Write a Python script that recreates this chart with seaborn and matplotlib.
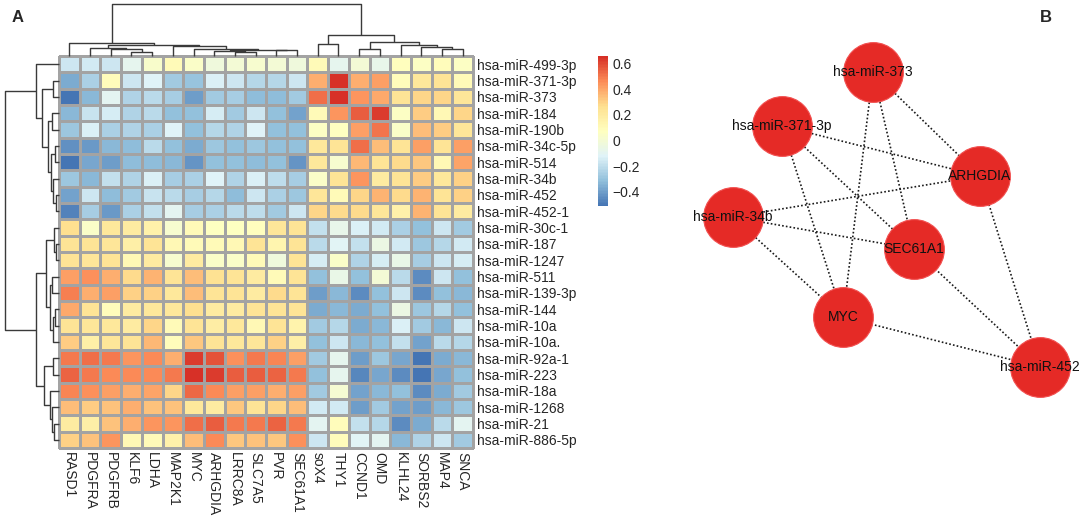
import numpy as np
import pandas as pd
import matplotlib
matplotlib.use("Agg")
import matplotlib.pyplot as plt
from matplotlib.colors import LinearSegmentedColormap
import seaborn as sns

# ---------------- data ----------------
genes = ["RASD1", "PDGFRA", "PDGFRB", "KLF6", "LDHA", "MAP2K1", "MYC", "ARHGDIA",
         "LRRC8A", "SLC7A5", "PVR", "SEC61A1", "soX4", "THY1", "CCND1", "OMD",
         "KLHL24", "SORBS2", "MAP4", "SNCA"]
mirnas = ["hsa-miR-499-3p", "hsa-miR-371-3p", "hsa-miR-373", "hsa-miR-184", "hsa-miR-190b",
          "hsa-miR-34c-5p", "hsa-miR-514", "hsa-miR-34b", "hsa-miR-452", "hsa-miR-452-1",
          "hsa-miR-30c-1", "hsa-miR-187", "hsa-miR-1247", "hsa-miR-511", "hsa-miR-139-3p",
          "hsa-miR-144", "hsa-miR-10a", "hsa-miR-10a.", "hsa-miR-92a-1", "hsa-miR-223",
          "hsa-miR-18a", "hsa-miR-1268", "hsa-miR-21", "hsa-miR-886-5p"]
corr_values = [
    [-0.17, -0.15, -0.17, -0.08, 0.03, 0.10, 0.05, -0.03, 0.00, 0.02, 0.00, -0.03, 0.10, -0.08, 0.00, -0.07, 0.08, 0.06, 0.09, 0.06],
    [-0.36, -0.25, 0.09, -0.16, -0.12, -0.27, -0.29, -0.13, -0.17, -0.22, -0.22, -0.17, 0.38, 0.65, 0.38, 0.42, 0.09, 0.22, 0.24, 0.10],
    [-0.51, -0.33, -0.10, -0.24, -0.21, -0.26, -0.40, -0.27, -0.26, -0.32, -0.32, -0.27, 0.52, 0.66, 0.44, 0.40, 0.24, 0.29, 0.29, 0.23],
    [-0.33, -0.18, -0.14, -0.23, -0.21, -0.30, -0.31, -0.14, -0.27, -0.17, -0.31, -0.39, 0.10, 0.44, 0.56, 0.63, 0.06, 0.31, 0.12, 0.29],
    [-0.28, -0.13, -0.25, -0.23, -0.25, -0.12, -0.31, -0.22, -0.23, -0.12, -0.30, -0.30, 0.06, 0.07, 0.42, 0.51, 0.05, 0.35, 0.31, 0.23],
    [-0.43, -0.41, -0.33, -0.32, -0.21, -0.31, -0.36, -0.28, -0.30, -0.28, -0.30, -0.30, 0.22, 0.24, 0.52, 0.35, 0.24, 0.42, 0.24, 0.42],
    [-0.51, -0.37, -0.40, -0.32, -0.32, -0.33, -0.42, -0.30, -0.30, -0.32, -0.31, -0.42, 0.22, 0.02, 0.36, 0.24, 0.28, 0.33, 0.12, 0.41],
    [-0.28, -0.33, -0.19, -0.24, -0.13, -0.26, -0.25, -0.12, -0.24, -0.13, -0.20, -0.26, 0.05, 0.24, 0.44, 0.20, 0.24, 0.31, 0.22, 0.30],
    [-0.39, -0.17, -0.32, -0.27, -0.18, -0.21, -0.26, -0.22, -0.32, -0.17, -0.25, -0.28, 0.23, 0.10, 0.29, 0.37, 0.28, 0.37, 0.24, 0.30],
    [-0.47, -0.26, -0.41, -0.25, -0.19, -0.10, -0.26, -0.25, -0.21, -0.20, -0.27, -0.17, 0.29, 0.28, 0.28, 0.23, 0.16, 0.37, 0.24, 0.20],
    [0.27, 0.04, 0.22, 0.20, 0.16, 0.02, 0.10, 0.07, 0.07, 0.08, 0.23, 0.24, -0.19, -0.07, -0.13, -0.15, -0.25, -0.31, -0.16, -0.27],
    [0.25, 0.25, 0.23, 0.17, 0.24, 0.12, 0.11, 0.10, 0.12, 0.25, 0.14, 0.24, -0.21, -0.11, -0.19, -0.05, -0.15, -0.28, -0.22, -0.15],
    [0.24, 0.23, 0.25, 0.12, 0.20, 0.02, 0.20, 0.04, 0.05, 0.10, -0.02, 0.24, -0.14, 0.05, -0.23, -0.14, -0.06, -0.26, -0.17, -0.14],
    [0.42, 0.45, 0.38, 0.28, 0.37, 0.24, 0.35, 0.26, 0.24, 0.20, 0.10, 0.24, -0.31, -0.06, -0.31, 0.00, -0.21, -0.45, -0.16, -0.31],
    [0.49, 0.38, 0.42, 0.30, 0.30, 0.22, 0.35, 0.24, 0.24, 0.20, 0.28, 0.24, -0.40, -0.33, -0.45, -0.31, -0.16, -0.44, -0.31, -0.33],
    [0.40, 0.24, 0.09, 0.20, 0.22, 0.22, 0.27, 0.20, 0.20, 0.25, 0.24, 0.24, -0.36, -0.33, -0.36, -0.31, -0.05, -0.28, -0.22, -0.31],
    [0.24, 0.23, 0.22, 0.20, 0.29, 0.10, 0.24, 0.19, 0.22, 0.12, 0.24, 0.15, -0.27, -0.22, -0.36, -0.33, -0.13, -0.27, -0.33, -0.16],
    [0.31, 0.17, 0.23, 0.25, 0.36, 0.09, 0.33, 0.24, 0.22, 0.23, 0.30, 0.17, -0.31, -0.16, -0.33, -0.31, -0.19, -0.39, -0.21, -0.22],
    [0.50, 0.52, 0.50, 0.44, 0.47, 0.38, 0.63, 0.58, 0.46, 0.50, 0.48, 0.42, -0.27, -0.08, -0.40, -0.28, -0.38, -0.51, -0.36, -0.33],
    [0.55, 0.50, 0.47, 0.47, 0.47, 0.50, 0.66, 0.63, 0.56, 0.56, 0.55, 0.50, -0.31, -0.08, -0.46, -0.38, -0.44, -0.50, -0.38, -0.31],
    [0.48, 0.45, 0.42, 0.38, 0.41, 0.29, 0.54, 0.47, 0.42, 0.42, 0.38, 0.42, -0.27, 0.01, -0.39, -0.33, -0.31, -0.45, -0.36, -0.27],
    [0.35, 0.31, 0.34, 0.38, 0.34, 0.34, 0.22, 0.20, 0.33, 0.24, 0.29, 0.35, -0.15, -0.15, -0.40, -0.27, -0.39, -0.40, -0.33, -0.28],
    [0.20, 0.17, 0.34, 0.39, 0.44, 0.44, 0.53, 0.56, 0.50, 0.50, 0.55, 0.50, -0.09, 0.09, -0.19, -0.22, -0.44, -0.36, -0.21, -0.09],
    [0.30, 0.34, 0.44, 0.12, 0.10, 0.16, 0.35, 0.47, 0.33, 0.34, 0.33, 0.45, -0.16, 0.09, -0.11, -0.09, -0.33, -0.23, -0.16, -0.27],
]
cbar_ticks = [0.6, 0.4, 0.2, 0.0, -0.2, -0.4]
cbar_ticklabels = ["0.6", "0.4", "0.2", "0", "\u22120.2", "\u22120.4"]

# dendrogram merges: (child a, child b, height); ids >= n are earlier merges
col_links = [(3, 4, 12), (2, 20, 22), (1, 21, 24), (8, 9, 12), (7, 23, 15),
             (10, 11, 17), (24, 25, 19), (6, 26, 22), (5, 27, 29), (22, 28, 34),
             (0, 29, 39), (12, 13, 37), (14, 15, 22), (18, 19, 20), (17, 33, 28),
             (16, 34, 34), (32, 35, 42), (31, 36, 64), (30, 37, 157)]
row_links = [(1, 2, 18), (3, 4, 20), (5, 6, 12), (8, 9, 10), (7, 27, 18),
             (26, 28, 25), (25, 29, 33), (24, 30, 50), (0, 31, 68), (11, 12, 8),
             (10, 33, 15), (13, 14, 20), (15, 16, 12), (36, 17, 18), (35, 37, 26),
             (34, 38, 38), (18, 19, 18), (22, 23, 15), (21, 41, 22), (20, 42, 28),
             (40, 43, 45), (39, 44, 70), (32, 45, 163)]

# network (panel B)
net_nodes = ["hsa-miR-373", "hsa-miR-371-3p", "ARHGDIA", "hsa-miR-34b", "SEC61A1", "MYC", "hsa-miR-452"]
net_edges = [("hsa-miR-373", "MYC"), ("hsa-miR-373", "SEC61A1"), ("hsa-miR-373", "ARHGDIA"),
             ("hsa-miR-371-3p", "ARHGDIA"), ("hsa-miR-371-3p", "SEC61A1"), ("hsa-miR-371-3p", "MYC"),
             ("hsa-miR-34b", "ARHGDIA"), ("hsa-miR-34b", "SEC61A1"), ("hsa-miR-34b", "MYC"),
             ("hsa-miR-452", "ARHGDIA"), ("hsa-miR-452", "SEC61A1"), ("hsa-miR-452", "MYC")]
# layout (pixel space of the panel)
net_layout = {"hsa-miR-373": (873, 72), "hsa-miR-371-3p": (782, 126), "ARHGDIA": (980, 176),
              "hsa-miR-34b": (733, 217), "SEC61A1": (914, 249), "MYC": (843, 317),
              "hsa-miR-452": (1040, 367)}

# ---------------- style ----------------
sns.set_style("white")
plt.rcParams["font.family"] = ["Liberation Sans", "DejaVu Sans"]
plt.rcParams["axes.unicode_minus"] = True

W, H = 1084, 519
fig = plt.figure(figsize=(W / 100, H / 100), dpi=100)


def fax(x0, y0, x1, y1):
    return fig.add_axes([x0 / W, 1 - y1 / H, (x1 - x0) / W, (y1 - y0) / H])


cmap = LinearSegmentedColormap.from_list(
    "pheat", ["#4575B4", "#91BFDB", "#E0F3F8", "#FFFFBF", "#FEE090", "#FC8D59", "#D73027"], N=100)

df = pd.DataFrame(corr_values, index=mirnas, columns=genes)

ax = fax(59, 56, 473, 448)
cax = fax(598, 56, 608, 206)
sns.heatmap(df, ax=ax, cmap=cmap, vmin=-0.51, vmax=0.66, linewidths=0.9,
            linecolor="#a3a3a3", cbar_ax=cax, xticklabels=True, yticklabels=True)
ax.collections[0].set_clip_on(False)
ax.yaxis.tick_right()
ax.set_yticks(np.arange(len(mirnas)) + 0.5)
ax.set_yticklabels(mirnas, rotation=0, fontsize=10)
ax.set_xticks(np.arange(len(genes)) + 0.5)
ax.set_xticklabels(genes, rotation=270, fontsize=10, ha="center", va="top")
ax.tick_params(axis="both", length=0, pad=3)
ax.set_xlabel("")
ax.set_ylabel("")

cbar = ax.collections[0].colorbar
cbar.set_ticks(cbar_ticks)
cbar.set_ticklabels(cbar_ticklabels)
cbar.outline.set_visible(False)
cax.tick_params(length=0, labelsize=10, pad=3)


def draw_dendro(dax, links, n, orient):
    pos = {i: i + 0.5 for i in range(n)}
    hgt = {i: 0.0 for i in range(n)}
    for k, (a, b, h) in enumerate(links):
        pa, pb, ha, hb = pos[a], pos[b], hgt[a], hgt[b]
        if orient == "top":
            xs, ys = [pa, pa, pb, pb], [ha, h, h, hb]
        else:
            xs, ys = [ha, h, h, hb], [pa, pa, pb, pb]
        dax.plot(xs, ys, color="#3a3a3a", lw=1.0, solid_capstyle="butt", clip_on=False)
        pos[n + k] = (pa + pb) / 2
        hgt[n + k] = h


dcol = fax(59, 3, 473, 56)
draw_dendro(dcol, col_links, len(genes), "top")
dcol.set_xlim(0, len(genes))
dcol.set_ylim(0, 159)
dcol.axis("off")

drow = fax(5, 56, 59, 448)
draw_dendro(drow, row_links, len(mirnas), "left")
drow.set_ylim(len(mirnas), 0)
drow.set_xlim(163, 0)
drow.axis("off")

# ---------------- network ----------------
nax = fax(620, 0, 1084, 519)
for a, b in net_edges:
    (xa, ya), (xb, yb) = net_layout[a], net_layout[b]
    nax.plot([xa, xb], [ya, yb], color="#1a1a1a", lw=1.2, linestyle=(0, (1, 1.3)), zorder=1)
node_df = pd.DataFrame({"name": net_nodes,
                        "x": [net_layout[n][0] for n in net_nodes],
                        "y": [net_layout[n][1] for n in net_nodes]})
sns.scatterplot(data=node_df, x="x", y="y", s=1850, color="#e52a26", edgecolor="#f25050",
                linewidth=0.8, ax=nax, zorder=3, legend=False)
for n in net_nodes:
    x, y = net_layout[n]
    nax.text(x, y, n, ha="center", va="center", fontsize=10, color="#111111", zorder=4)
nax.set_xlim(620, 1084)
nax.set_ylim(519, 0)
nax.set_xlabel("")
nax.set_ylabel("")
nax.axis("off")

fig.text(12 / W, 1 - 18 / H, "A", fontsize=12, fontweight="bold", ha="left", va="center")
fig.text(1040 / W, 1 - 18 / H, "B", fontsize=12, fontweight="bold", ha="left", va="center")

fig.savefig("out.png", dpi=100)
